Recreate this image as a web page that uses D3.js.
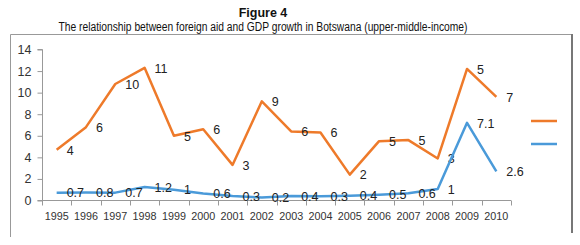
<!DOCTYPE html>
<html><head><meta charset="utf-8">
<script src="https://cdn.jsdelivr.net/npm/d3@7"></script>
<style>body{margin:0;background:#fff}svg{display:block}</style>
</head><body>
<svg id="c" width="580" height="245"></svg>
<script>
const years = ["1995","1996","1997","1998","1999","2000","2001","2002","2003","2004","2005","2006","2007","2008","2009","2010"];
const gdpValues = [4.7,6.8,10.8,12.3,6.0,6.6,3.3,9.2,6.4,6.3,2.4,5.5,5.6,3.9,12.2,9.6];
const gdpLabels = ["4","6","10","11","5","6","3","9","6","6","2","5","5","3","5","7"];
const aidValues = [0.73,0.75,0.73,1.25,1.0,0.65,0.42,0.28,0.42,0.39,0.45,0.54,0.67,1.07,7.2,2.7];
const aidLabels = ["0.7","0.8","0.7","1.2","1","0.6","0.3","0.2","0.4","0.3","0.4","0.5","0.6","1","7.1","2.6"];
const yTicks = [0,2,4,6,8,10,12,14];
const titleText = "Figure 4";
const subtitleText = "The relationship between foreign aid and GDP growth in Botswana (upper-middle-income)";

const svg = d3.select("#c");
const font = "'Liberation Sans', Arial, sans-serif";
const orange = "#EE7A2A", blue = "#4A9AD9";

// titles
svg.append("text").attr("x",263).attr("y",17).attr("text-anchor","middle")
  .attr("font-family",font).attr("font-size",12.5).attr("font-weight","bold").attr("fill","#111").text(titleText);
svg.append("text").attr("x",263).attr("y",30.5).attr("text-anchor","middle")
  .attr("font-family",font).attr("font-size",12).attr("fill","#111")
  .attr("textLength",409).attr("lengthAdjust","spacingAndGlyphs").text(subtitleText);

// frame
svg.append("path").attr("d","M10.5,237 V34.5 H572").attr("fill","none").attr("stroke","#999").attr("stroke-width",1);
svg.append("line").attr("x1",572).attr("x2",572).attr("y1",34).attr("y2",233).attr("stroke","#777").attr("stroke-width",2);

const x = d3.scaleBand().domain(years).range([42,511]);
const y = d3.scaleLinear().domain([0,14]).range([200.5,49.5]);
const cx = d => x(d) + x.bandwidth()/2;

// y axis
const ya = svg.append("g").attr("transform","translate(42.5,0)")
  .call(d3.axisLeft(y).tickValues(yTicks).tickSize(5).tickPadding(6));
ya.select(".domain").attr("stroke","#999").attr("d","M-5,49.5H0V200.5H-5");
ya.selectAll(".tick line").attr("stroke","#999");
ya.selectAll(".tick text").attr("font-family",font).attr("font-size",12.5).attr("fill","#333");

// x axis
const xa = svg.append("g").attr("transform","translate(0,200.5)")
  .call(d3.axisBottom(x).tickSize(0).tickPadding(11));
xa.select(".domain").attr("stroke","#999").attr("d","M42,0H511");
xa.selectAll(".tick text").attr("font-family",font).attr("font-size",11.5).attr("fill","#333")
  .attr("textLength",24).attr("lengthAdjust","spacingAndGlyphs");
const bounds = years.map(d=>x(d)).concat([x(years[years.length-1])+x.bandwidth()]);
xa.selectAll("line.b").data(bounds).enter().append("line").attr("class","b")
  .attr("x1",d=>Math.round(d)+0.5).attr("x2",d=>Math.round(d)+0.5).attr("y1",0).attr("y2",5).attr("stroke","#999");

function series(vals, labels, color){
  const line = d3.line().x((d,i)=>cx(years[i])).y(d=>y(d));
  svg.append("path").attr("d",line(vals)).attr("fill","none").attr("stroke",color)
    .attr("stroke-width",2.5).attr("stroke-linejoin","round");
  svg.append("g").selectAll("text").data(vals).enter().append("text")
    .attr("x",(d,i)=>cx(years[i])+10).attr("y",d=>y(d)).attr("dy","0.38em")
    .attr("font-family",font).attr("font-size",12.5).attr("fill","#222")
    .text((d,i)=>labels[i]);
}
series(gdpValues, gdpLabels, orange);
series(aidValues, aidLabels, blue);

// legend (no text)
[[orange,121],[blue,144]].forEach(([c,yy])=>{
  svg.append("line").attr("x1",531).attr("x2",557).attr("y1",yy).attr("y2",yy)
    .attr("stroke",c).attr("stroke-width",2.5);
});
</script>
</body></html>
